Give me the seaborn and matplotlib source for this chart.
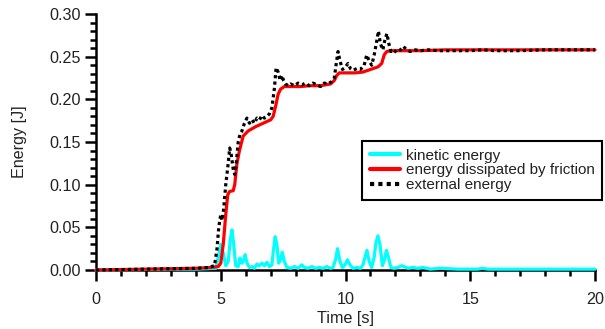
import matplotlib
matplotlib.use("Agg")
import matplotlib.pyplot as plt
import seaborn as sns
from matplotlib.ticker import MultipleLocator, FormatStrFormatter
from matplotlib.lines import Line2D

# ---------------- data ----------------
t_fric = [0, 1, 2, 3, 4, 4.6, 4.9, 5.0, 5.1, 5.2, 5.28, 5.35, 5.5, 5.56, 5.65, 5.75,
          5.9, 6.1, 6.4, 6.7, 7.0, 7.1, 7.2, 7.3, 7.4, 7.55, 7.8, 8.2, 8.6, 9.0, 9.4,
          9.55, 9.65, 9.75, 10.0, 10.4, 10.7, 10.9, 11.1, 11.3, 11.45, 11.55, 11.65,
          11.8, 12.2, 13, 14, 15, 16, 17, 18, 19, 20]
e_fric = [0.0, 0.0005, 0.001, 0.0015, 0.002, 0.003, 0.004, 0.008, 0.030, 0.065, 0.088,
          0.092, 0.093, 0.100, 0.125, 0.140, 0.157, 0.163, 0.168, 0.172, 0.176, 0.180,
          0.192, 0.206, 0.212, 0.215, 0.215, 0.215, 0.216, 0.216, 0.218, 0.222, 0.228,
          0.231, 0.231, 0.231, 0.232, 0.234, 0.236, 0.238, 0.242, 0.252, 0.256, 0.257,
          0.257, 0.257, 0.258, 0.258, 0.258, 0.258, 0.258, 0.258, 0.258]

t_ext = [0, 1, 2, 3, 4, 4.5, 4.75, 4.85, 4.92, 5.0, 5.05, 5.12, 5.2, 5.28, 5.36, 5.42,
         5.5, 5.56, 5.62, 5.7, 5.78, 5.85, 5.95, 6.05, 6.15, 6.25, 6.35, 6.45, 6.55,
         6.65, 6.75, 6.85, 6.95, 7.05, 7.15, 7.22, 7.3, 7.38, 7.45, 7.52, 7.6, 7.7,
         7.8, 7.95, 8.1, 8.25, 8.4, 8.55, 8.7, 8.85, 9.0, 9.15, 9.3, 9.45, 9.55, 9.62,
         9.7, 9.78, 9.88, 10.0, 10.1, 10.2, 10.3, 10.45, 10.6, 10.75, 10.85, 10.95,
         11.05, 11.15, 11.25, 11.32, 11.4, 11.5, 11.58, 11.66, 11.74, 11.82, 11.92,
         12.05, 12.2, 12.32, 12.45, 12.6, 12.8, 13.0, 13.3, 13.7, 14.2, 15.0, 15.5,
         16, 17, 18, 19, 20]
e_ext = [0.0, 0.0005, 0.001, 0.0015, 0.002, 0.003, 0.005, 0.025, 0.050, 0.065, 0.058,
         0.072, 0.100, 0.120, 0.143, 0.135, 0.118, 0.112, 0.125, 0.150, 0.160, 0.163,
         0.172, 0.178, 0.172, 0.176, 0.172, 0.178, 0.176, 0.181, 0.178, 0.180, 0.183,
         0.190, 0.213, 0.237, 0.232, 0.222, 0.228, 0.222, 0.218, 0.216, 0.218, 0.216,
         0.219, 0.217, 0.219, 0.216, 0.219, 0.217, 0.215, 0.219, 0.218, 0.221, 0.225,
         0.240, 0.256, 0.245, 0.235, 0.238, 0.242, 0.236, 0.234, 0.236, 0.235, 0.240,
         0.252, 0.245, 0.240, 0.252, 0.268, 0.280, 0.265, 0.258, 0.270, 0.277, 0.265,
         0.256, 0.258, 0.255, 0.258, 0.262, 0.258, 0.256, 0.258, 0.257, 0.258, 0.257,
         0.257, 0.257, 0.258, 0.257, 0.257, 0.258, 0.258, 0.258]

t_kin = [0, 3, 4, 4.8, 4.9, 5.0, 5.1, 5.2, 5.3, 5.38, 5.45, 5.52, 5.6, 5.7, 5.77, 5.85,
         5.92, 5.98, 6.05, 6.15, 6.25, 6.35, 6.45, 6.55, 6.65, 6.75, 6.85, 6.95, 7.05,
         7.12, 7.18, 7.25, 7.32, 7.4, 7.46, 7.55, 7.65, 7.8, 7.95, 8.1, 8.25, 8.35, 8.5,
         8.65, 8.8, 8.95, 9.1, 9.25, 9.4, 9.5, 9.6, 9.68, 9.78, 9.88, 9.98, 10.08,
         10.18, 10.3, 10.45, 10.6, 10.7, 10.78, 10.86, 10.95, 11.05, 11.15, 11.22,
         11.3, 11.38, 11.48, 11.56, 11.64, 11.72, 11.82, 11.95, 12.1, 12.25, 12.35,
         12.5, 12.7, 12.9, 13.1, 13.4, 13.8, 14.5, 15.3, 15.5, 15.7, 16.5, 18, 20]
e_kin = [0.000, 0.001, 0.001, 0.002, 0.015, 0.030, 0.020, 0.005, 0.010, 0.035, 0.047,
         0.030, 0.005, 0.004, 0.014, 0.008, 0.012, 0.018, 0.008, 0.003, 0.004, 0.002,
         0.007, 0.005, 0.008, 0.005, 0.009, 0.004, 0.006, 0.025, 0.039, 0.030, 0.008,
         0.012, 0.021, 0.010, 0.003, 0.002, 0.004, 0.002, 0.006, 0.003, 0.002, 0.004,
         0.002, 0.003, 0.002, 0.004, 0.002, 0.003, 0.012, 0.025, 0.010, 0.003, 0.006,
         0.012, 0.006, 0.002, 0.003, 0.002, 0.006, 0.015, 0.023, 0.010, 0.003, 0.015,
         0.032, 0.040, 0.030, 0.005, 0.012, 0.023, 0.015, 0.003, 0.002, 0.003, 0.005,
         0.004, 0.002, 0.003, 0.002, 0.003, 0.001, 0.002, 0.001, 0.001, 0.002, 0.001,
         0.001, 0.001, 0.001]

labels = ["kinetic energy", "energy dissipated by friction", "external energy"]
x_label = "Time [s]"
y_label = "Energy [J]"

# ---------------- style ----------------
sns.set_style("ticks")
plt.rcParams["font.family"] = ["Liberation Sans", "DejaVu Sans"]
plt.rcParams["font.size"] = 11

fig = plt.figure(figsize=(6.05, 3.29), dpi=100)
ax = fig.add_axes([96 / 605, 1 - 270 / 329, 499 / 605, 256 / 329])

lw = 2.3
sns.lineplot(x=t_kin, y=e_kin, ax=ax, color="#00FFFF", linewidth=lw, estimator=None,
             sort=False, zorder=3, clip_on=False)
sns.lineplot(x=t_fric, y=e_fric, ax=ax, color="#FF0000", linewidth=lw, estimator=None,
             sort=False, zorder=4, clip_on=False)
sns.lineplot(x=t_ext, y=e_ext, ax=ax, color="black", linewidth=lw, estimator=None,
             sort=False, zorder=5, clip_on=False, linestyle=(0, (1, 1)))

ax.set_xlim(0, 20)
ax.set_ylim(0, 0.30)
ax.xaxis.set_major_locator(MultipleLocator(5))
ax.xaxis.set_minor_locator(MultipleLocator(1))
ax.yaxis.set_major_locator(MultipleLocator(0.05))
ax.yaxis.set_minor_locator(MultipleLocator(0.01))
ax.yaxis.set_major_formatter(FormatStrFormatter("%.2f"))

for side in ["top", "right"]:
    ax.spines[side].set_visible(False)
for side in ["left", "bottom"]:
    ax.spines[side].set_linewidth(1.8)
    ax.spines[side].set_color("black")
    ax.spines[side].set_zorder(2)

ax.tick_params(which="major", direction="out", length=8, width=1.8, color="black",
               labelsize=11.6, labelcolor="#222222")
ax.tick_params(which="minor", direction="out", length=4.5, width=1.8, color="black")
ax.tick_params(axis="x", which="major", pad=7.5)
ax.tick_params(axis="y", which="major", pad=3)

ax.set_xlabel(x_label, fontsize=11.6, labelpad=3, color="#222222")
ax.set_ylabel(y_label, fontsize=11.6, labelpad=16, color="#222222")
ax.grid(False)

handles = [
    Line2D([], [], color="#00FFFF", linewidth=3),
    Line2D([], [], color="#FF0000", linewidth=3),
    Line2D([], [], color="black", linewidth=3, linestyle=(0, (1, 1))),
]
leg = fig.legend(handles, labels, loc="upper left",
                 bbox_to_anchor=(362 / 605, 1 - 141 / 329),
                 bbox_transform=fig.transFigure, fontsize=11, frameon=True,
                 fancybox=False, shadow=False, framealpha=1, edgecolor="black",
                 borderpad=0.5, labelspacing=0.05, handlelength=2.0,
                 handletextpad=0.35, borderaxespad=0)
leg.get_frame().set_linewidth(1.5)
for txt in leg.get_texts():
    txt.set_color("#222222")

fig.savefig("out.png", dpi=100)
